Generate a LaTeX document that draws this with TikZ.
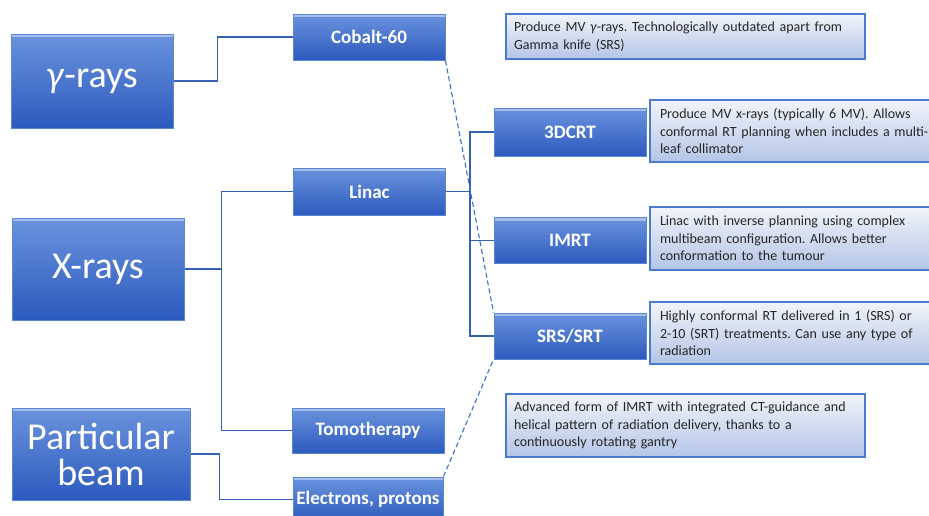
\documentclass[tikz,border=0pt]{standalone}
\usepackage{fontspec}
\setmainfont{Carlito}
\frenchspacing
\usepackage{tikz}
\usetikzlibrary{calc}
\usetikzlibrary{positioning}
\definecolor{boxtop}{HTML}{6A93DD}
\definecolor{boxbot}{HTML}{2C5ABE}
\definecolor{boxedge}{HTML}{5B86D4}
\definecolor{infotop}{HTML}{F1F4FA}
\definecolor{infobot}{HTML}{B3C5E6}
\definecolor{infoedge}{HTML}{4A7BD0}
\definecolor{linkcol}{HTML}{3562B4}
\definecolor{dashcol}{HTML}{3F6FCC}
\tikzset{
	blueblock/.style={
		rectangle,
		top color=boxtop,
		bottom color=boxbot,
		draw=boxedge, line width=1pt,
		path picture={\fill[boxtop!60!white] (path picture bounding box.north west) rectangle ([yshift=-3pt]path picture bounding box.north east);},
		text=white,
		align=center,
		inner sep=2pt},
	bigblock/.style={
		blueblock,
		font=\fontsize{38}{40}\selectfont},
	midblock/.style={
		blueblock,
		minimum width=152pt,
		minimum height=46pt,
		font=\bfseries\fontsize{19}{22}\selectfont},
	infoblock/.style={
		rectangle,
		top color=infotop,
		bottom color=infobot,
		draw=infoedge, line width=1.8pt,
		text=black!85,
		align=left,
		inner xsep=8pt,
		font=\fontsize{14}{17.5}\selectfont},
	link/.style={draw=linkcol, line width=1.1pt},
	dashlink/.style={draw=dashcol, line width=1.1pt, dash pattern=on 5pt off 3pt},
}

\begin{document}
\begin{tikzpicture}[x=1pt,y=-1pt]
	\useasboundingbox (0,0) rectangle (929,515);

	% main radiation types
	\node[bigblock, minimum width=162pt, minimum height=94pt] (gamma) at (92,81) {\textit{γ}-rays};
	\node[bigblock, minimum width=172pt, minimum height=102pt] (xray) at (98,269) {X-rays};
	\node[bigblock, minimum width=178pt, minimum height=92pt] (partb) at (101,454) {Particular\\[-4pt]beam};

	% sources
	\node[midblock] (cobalt) at (369,37) {Cobalt-60};
	\node[midblock, minimum height=47pt] (linac) at (369.5,191.5) {Linac};
	\node[midblock, minimum height=45pt] (tomo) at (368,430.5) {Tomotherapy};
	\node[midblock, minimum width=150pt, minimum height=45pt] (elec) at (368,499.5) {Electrons, protons};

	% techniques
	\node[midblock, minimum height=48pt] (tdcrt) at (570,132) {3DCRT};
	\node[midblock] (imrt) at (570,240.5) {IMRT};
	\node[midblock] (srs) at (570,336) {SRS/SRT};

	% descriptions
	\node[infoblock, minimum width=359pt, minimum height=45pt, text width=343pt] (infocob) at (685.5,36.5)
		{Produce MV \textit{γ}-rays. Technologically outdated apart from\\Gamma knife (SRS)};
	\node[infoblock, minimum width=293pt, minimum height=62pt, text width=277pt, inner xsep=10pt] (infotd) at (798.5,131)
		{Produce MV x-rays (typically 6 MV). Allows\\conformal RT planning when includes a multi-\\leaf collimator};
	\node[infoblock, minimum width=293pt, minimum height=63pt, text width=277pt, inner xsep=10pt] (infoim) at (798.5,238.5)
		{Linac with inverse planning using complex\\multibeam configuration. Allows better\\conformation to the tumour};
	\node[infoblock, minimum width=293pt, minimum height=62pt, text width=277pt, inner xsep=10pt] (infosr) at (798.5,333)
		{Highly conformal RT delivered in 1 (SRS) or\\2-10 (SRT) treatments. Can use any type of\\radiation};
	\node[infoblock, minimum width=359pt, minimum height=63pt, text width=343pt] (infoto) at (685.5,425.5)
		{Advanced form of IMRT with integrated CT-guidance and\\helical pattern of radiation delivery, thanks to a\\continuously rotating gantry};

	% tree links
	\draw[link] (gamma.east) -- ++(44,0) |- (cobalt.west);
	\draw[link] (xray.east) -- ++(37,0) coordinate (xj);
	\draw[link] (linac.west) -| (xj) |- (tomo.west);
	\draw[link] (partb.east) -- ++(29,0) |- (elec.west);
	\draw[link] (linac.east) -- ++(24,0) coordinate (lj);
	\draw[link] (tdcrt.west) -| (lj) |- (srs.west);
	\draw[link] (imrt.west) -- (imrt.west -| lj);

	% dashed links to SRS/SRT
	\draw[dashlink] (cobalt.south east) -- (srs.north west);
	\draw[dashlink] (elec.north east) -- (srs.south west);
\end{tikzpicture}
\end{document}
